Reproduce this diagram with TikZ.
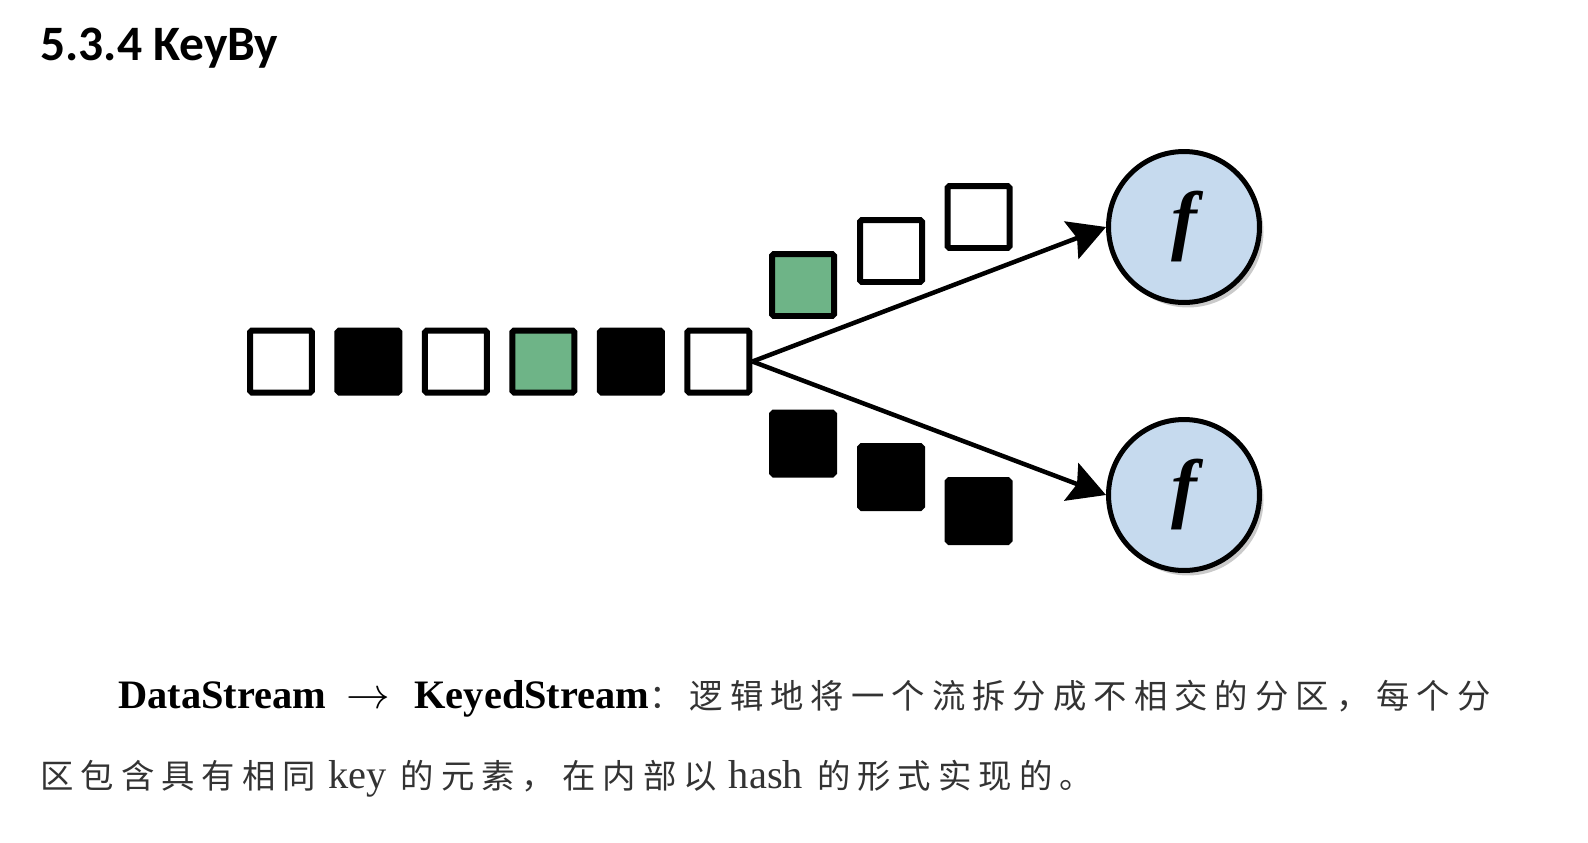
\documentclass[tikz,border=0pt]{standalone}
\usepackage{fontspec}
\setmainfont{Liberation Serif}
\newfontfamily\cjk[LetterSpace=21]{Noto Sans CJK SC}
\newfontfamily\headfont{Carlito}
\usepackage{xcolor}
\usetikzlibrary{calc}
\usetikzlibrary{positioning}
\usetikzlibrary{arrows.meta}
\usetikzlibrary{shadows}

\definecolor{keygreen}{RGB}{110,180,135}
\definecolor{funcblue}{RGB}{198,218,238}

\newcommand{\zh}[1]{{\color{black!80}\cjk\fontsize{19}{22}\selectfont #1}}

\begin{document}
\begin{tikzpicture}[x=0.02cm, y=-0.02cm]

        \def\d{.39cm}

        % Looks of the stream elements and of the operator circles
        \tikzset{
            elem/.style={draw, line width=0.12cm, minimum size=1.24cm,
                inner sep=0pt, rounded corners=1pt},
            wht/.style={elem, fill=white},
            blk/.style={elem, fill=black},
            grn/.style={elem, fill=keygreen},
            func/.style={circle, draw, line width=0.1cm, fill=funcblue,
                minimum size=3.02cm, inner sep=0pt,
                drop shadow={shadow xshift=0.08cm, shadow yshift=-0.1cm,
                    opacity=0.35, fill=black!60}},
            conn/.style={line width=0.09cm,
                -{Stealth[length=0.74cm, width=0.8cm, inset=0.12cm]}},
            txt/.style={anchor=base west, inner sep=0pt,
                font=\fontsize{23}{26}\selectfont}
        }

        \useasboundingbox (0,0) rectangle (1588,842);

        \node[anchor=base west, inner sep=0pt,
            font=\headfont\bfseries\fontsize{28.2}{30}\selectfont]
            (title) at (40,60) {5.3.4 KeyBy};

        % The incoming stream
        \begin{scope}
            \node[wht] (S1) at (281,361.5) {};
            \node[blk] (S2) [right=\d of S1] {};
            \node[wht] (S3) [right=\d of S2] {};
            \node[grn] (S4) [right=\d of S3] {};
            \node[blk] (S5) [right=\d of S4] {};
            \node[wht] (S6) [right=\d of S5] {};
        \end{scope}

        % The two keyed partitions
        \begin{scope}
            \node[grn] (U1) at (803,285) {};
            \node[wht] (U2) at (891,251) {};
            \node[wht] (U3) at (978.5,217) {};
            \node[blk] (D1) at (803,443.5) {};
            \node[blk] (D2) at (891,477) {};
            \node[blk] (D3) at (978.5,511) {};
        \end{scope}

        \node[func] (F1) at (1184,227)
            {\fontsize{44}{44}\selectfont\bfseries\itshape f};
        \node[func] (F2) at (1184,495)
            {\fontsize{44}{44}\selectfont\bfseries\itshape f};

        \foreach\x in {1,2}
        \draw[conn] (S6.east) -- (F\x.west);

        \node[txt] (T1) at (118,708)
            {\textbf{DataStream}\hspace{0.5em}$\rightarrow$\hspace{0.6em}\textbf{KeyedStream}\zh{：逻辑地将一个流拆分成不相交的分区，每个分}};
        \node[txt] (T2) at (40,788)
            {\zh{区包含具有相同}\hspace{0.3em}{\color{black!80}key}\hspace{0.35em}\zh{的元素，在内部以}\hspace{0.3em}{\color{black!80}hash}\hspace{0.35em}\zh{的形式实现的。}};

\end{tikzpicture}
\end{document}
